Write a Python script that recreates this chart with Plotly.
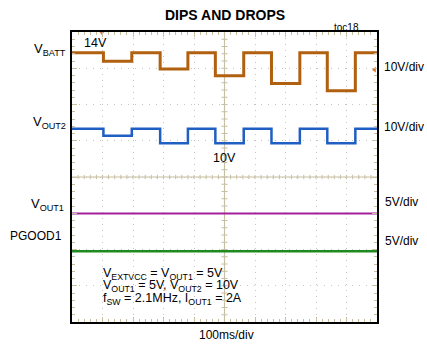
import plotly.graph_objects as go

# ---- data ----
edge_times_ms = [0, 103, 196, 289, 380, 470, 563, 654, 747, 837, 929, 1000]
vbatt_levels = [14, 11.6, 14, 9.5, 14, 7.6, 14, 5.5, 14, 3.5, 14]
vout2_levels = [10, 8.1, 10, 6.0, 10, 6.0, 10, 6.0, 10, 6.0, 10]
vout1_levels = [5, 5, 5, 5, 5, 5, 5, 5, 5, 5, 5]
pgood_levels = [5, 5, 5, 5, 5, 5, 5, 5, 5, 5, 5]
trigger_time_ms = 98
trigger_level_v = 9.3

# channel settings: (name, levels, volts/div, ground position in divisions, colour, width)
channels = [
    ("VBATT", vbatt_levels, 10, 6.03, "#b0600f", 3),
    ("VOUT2", vout2_levels, 10, 4.33, "#1f5fc4", 2.5),
    ("VOUT1", vout1_levels, 5, 1.99, "#a3209c", 2),
    ("PGOOD1", pgood_levels, 5, 0.95, "#1f8a1f", 2.5),
]

FONT = "Liberation Sans, Arial"
GRID = "#c4c4c4"
AXC = "#c8bfa0"

fig = go.Figure()
for name, levels, vdiv, gnd, col, w in channels:
    ys = [gnd + v / vdiv for v in levels] + [gnd + levels[-1] / vdiv]
    fig.add_trace(go.Scatter(x=edge_times_ms, y=ys, mode="lines", line_shape="hv",
                             line=dict(color=col, width=w), name=name, showlegend=False,
                             hoverinfo="skip"))

# trigger markers
fig.add_trace(go.Scatter(x=[trigger_time_ms], y=[8.0], mode="markers",
                         marker=dict(symbol="triangle-down", size=6, color="#f07020"),
                         cliponaxis=False, showlegend=False, hoverinfo="skip"))
fig.add_trace(go.Scatter(x=[992], y=[6.03 + trigger_level_v / 10], mode="markers",
                         marker=dict(symbol="triangle-left", size=5, color="#e07020"),
                         cliponaxis=False, showlegend=False, hoverinfo="skip"))

shapes = []
# centre cross
shapes.append(dict(type="line", xref="x", yref="y", x0=0, x1=1000, y0=4, y1=4,
                   line=dict(color=AXC, width=1.2), layer="below"))
shapes.append(dict(type="line", xref="x", yref="y", x0=500, x1=500, y0=0, y1=8,
                   line=dict(color=AXC, width=1.2), layer="below"))
for i in range(1, 50):
    t = i * 20
    shapes.append(dict(type="line", xref="x", yref="y", x0=t, x1=t, y0=3.94, y1=4.06,
                       line=dict(color=AXC, width=1), layer="below"))
for i in range(1, 40):
    d = i * 0.2
    shapes.append(dict(type="line", xref="x", yref="y", x0=490, x1=510, y0=d, y1=d,
                       line=dict(color=AXC, width=1), layer="below"))

fig.update_layout(
    width=427, height=348,
    margin=dict(l=72, r=50, t=32, b=26),
    paper_bgcolor="white", plot_bgcolor="white",
    shapes=shapes,
    xaxis=dict(range=[0, 1000], dtick=100, showticklabels=False, showgrid=True,
               gridcolor=GRID, griddash="1px,5px", gridwidth=1, zeroline=False,
               showline=True, linecolor="black", linewidth=1.5, mirror="allticks",
               ticks="inside", ticklen=5, tickcolor=AXC,
               minor=dict(dtick=20, ticks="inside", ticklen=3, tickcolor=AXC, showgrid=False)),
    yaxis=dict(range=[0, 8], dtick=1, showticklabels=False, showgrid=True,
               gridcolor=GRID, griddash="1px,6px", gridwidth=1, zeroline=False,
               showline=True, linecolor="black", linewidth=1.5, mirror="allticks",
               ticks="inside", ticklen=5, tickcolor=AXC,
               minor=dict(dtick=0.2, ticks="inside", ticklen=3, tickcolor=AXC, showgrid=False)),
    font=dict(family=FONT, size=12, color="black"),
)

def ann(text, x, y, xanchor="center", size=12, bold=False):
    fig.add_annotation(text=f"<b>{text}</b>" if bold else text, x=x, y=y, xref="paper", yref="paper",
                       xanchor=xanchor, yanchor="middle", showarrow=False,
                       font=dict(family=FONT, size=size, color="black"))

L, R, T, B = 72, 427 - 50, 32, 348 - 26
def px(xp): return (xp - L) / (R - L)
def py(yp): return (B - yp) / (B - T)

ann("DIPS AND DROPS", px(225), py(14.5), size=14, bold=True)
ann("toc18", px(346), py(27), size=10)
ann("V<sub>BATT</sub>", px(68), py(49), xanchor="right", size=13)
ann("V<sub>OUT2</sub>", px(68), py(123), xanchor="right", size=13)
ann("V<sub>OUT1</sub>", px(66), py(204), xanchor="right", size=13)
ann("PGOOD1", px(64), py(235.5), xanchor="right")
ann("10V/div", px(382), py(67), xanchor="left")
ann("10V/div", px(382), py(127), xanchor="left")
ann("5V/div", px(383), py(202), xanchor="left")
ann("5V/div", px(383), py(240.5), xanchor="left")
ann("14V", px(82), py(43), xanchor="left", size=12.5)
ann("10V", px(211), py(157.5), xanchor="left", size=12.5)
ann("V<sub>EXTVCC</sub> = V<sub>OUT1</sub> = 5V", px(101), py(274), xanchor="left", size=12.5)
ann("V<sub>OUT1</sub> = 5V, V<sub>OUT2</sub> = 10V", px(101), py(286), xanchor="left", size=12.5)
ann("f<sub>SW</sub> = 2.1MHz, I<sub>OUT1</sub> = 2A", px(101), py(298.5), xanchor="left", size=12.5)
ann("100ms/div", px(226), py(335))

fig.write_html("out.html")
